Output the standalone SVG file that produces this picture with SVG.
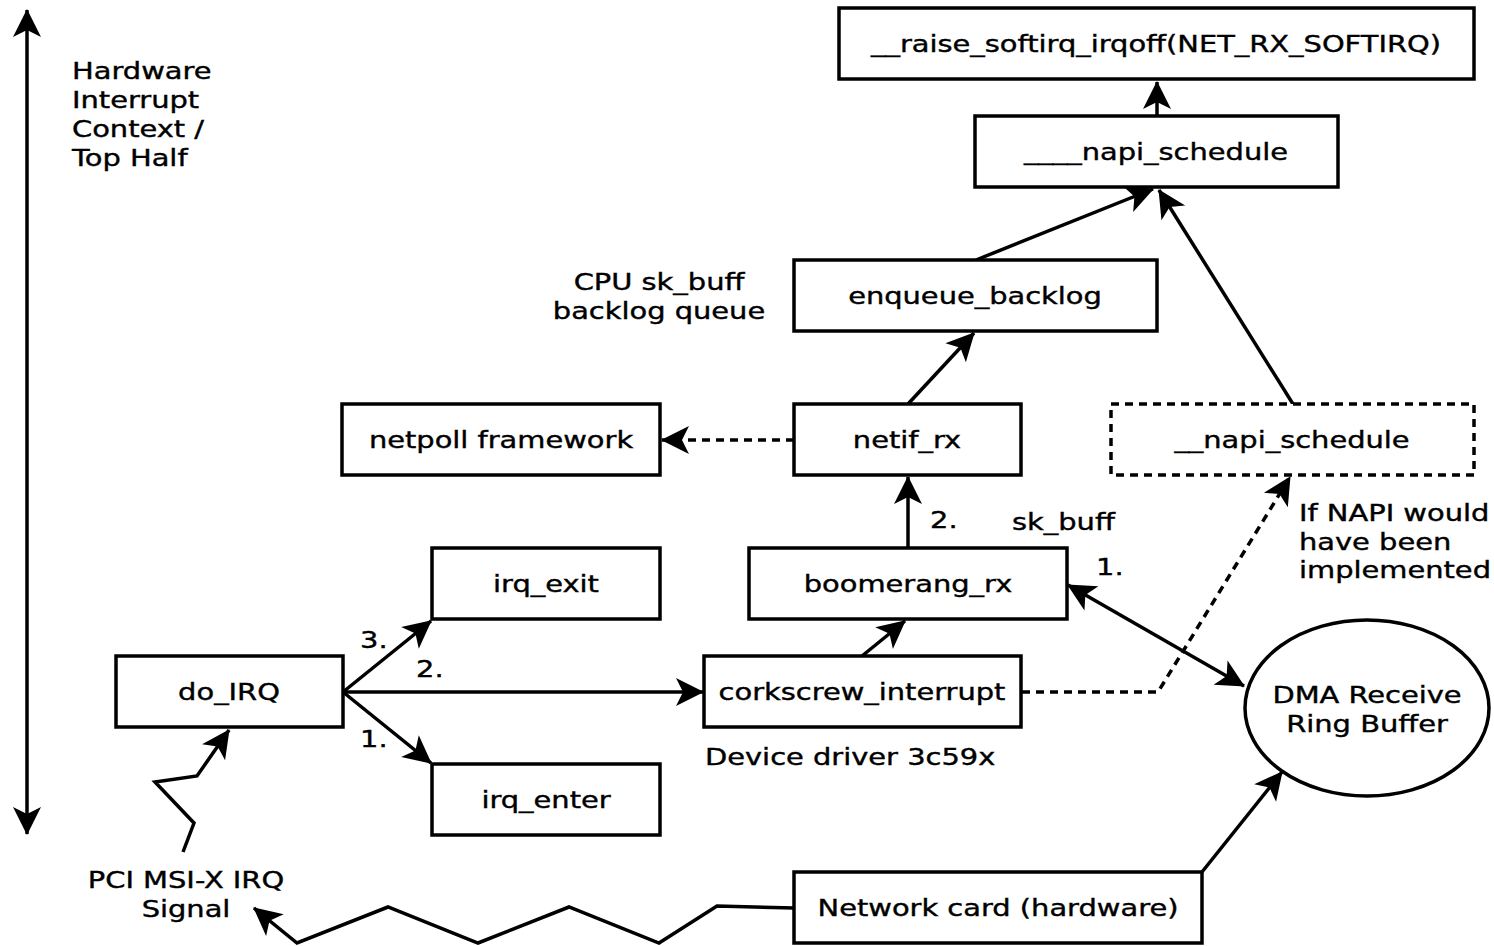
<svg xmlns="http://www.w3.org/2000/svg" width="1494" height="946" viewBox="0 0 1494 946">
<defs>
<style>
.box{fill:#fff;stroke:#000;stroke-width:3.5}
.dbox{fill:#fff;stroke:#000;stroke-width:3.5;stroke-dasharray:8,6}
.ln{fill:none;stroke:#000;stroke-width:3.5}
.dl{fill:none;stroke:#000;stroke-width:3.5;stroke-dasharray:8,6}
text{font-family:"DejaVu Sans","Liberation Sans",sans-serif;font-size:23.5px;fill:#000;stroke:#000;stroke-width:0.4}
.c{text-anchor:middle}
</style>
<marker id="ah" viewBox="-30 -16 32 32" refX="0" refY="0" markerWidth="32" markerHeight="32" markerUnits="userSpaceOnUse" orient="auto-start-reverse">
<path d="M1,0 L-27,-14 L-20,0 L-27,14 Z" fill="#000"/>
</marker>
</defs>
<rect width="1494" height="946" fill="#fff"/>

<g id="connectors">
<path class="ln" d="M27,10 L27,834" marker-start="url(#ah)" marker-end="url(#ah)"/>
<path class="ln" d="M1157,116 L1157,82" marker-end="url(#ah)"/>
<path class="ln" d="M976,260 L1153,189" marker-end="url(#ah)"/>
<path class="ln" d="M1293,404 L1159,190" marker-end="url(#ah)"/>
<path class="ln" d="M908,404 L974,333" marker-end="url(#ah)"/>
<path class="dl" d="M794,440 L662,440" marker-end="url(#ah)"/>
<path class="ln" d="M908,548 L908,477" marker-end="url(#ah)"/>
<path class="ln" d="M862,656 L905,621" marker-end="url(#ah)"/>
<path class="ln" d="M343,692 L703,692" marker-end="url(#ah)"/>
<path class="ln" d="M343,692 L431,621" marker-end="url(#ah)"/>
<path class="ln" d="M343,692 L431,763" marker-end="url(#ah)"/>
<path class="ln" d="M1068,585 L1244,686" marker-start="url(#ah)" marker-end="url(#ah)"/>
<path class="dl" d="M1022,692 L1158,692 L1290,477" marker-end="url(#ah)"/>
<path class="ln" d="M1202,872 L1282,772" marker-end="url(#ah)"/>
<path class="ln" d="M794,908 L717,906 L659,943 L569,907 L478,943 L388,907 L297,943 L254,908" marker-end="url(#ah)"/>
<path class="ln" d="M183,852 L194,823 L155,782 L197,776 L229,730" marker-end="url(#ah)"/>
</g>

<g id="raise_softirq">
<rect class="box" x="839" y="8" width="635" height="71"/>
<text class="c" transform="translate(1156,52) scale(1.23,1)">__raise_softirq_irqoff(NET_RX_SOFTIRQ)</text>
</g>
<g id="napi_schedule_inner">
<rect class="box" x="975" y="116" width="363" height="71"/>
<text class="c" transform="translate(1156,160) scale(1.23,1)">____napi_schedule</text>
</g>
<g id="enqueue_backlog">
<rect class="box" x="794" y="260" width="363" height="71"/>
<text class="c" transform="translate(975,304) scale(1.23,1)">enqueue_backlog</text>
</g>
<g id="netif_rx">
<rect class="box" x="794" y="404" width="227" height="71"/>
<text class="c" transform="translate(907,448) scale(1.23,1)">netif_rx</text>
</g>
<g id="netpoll">
<rect class="box" x="342" y="404" width="318" height="71"/>
<text class="c" transform="translate(501,448) scale(1.23,1)">netpoll framework</text>
</g>
<g id="napi_schedule_dashed">
<rect class="dbox" x="1111" y="404" width="363" height="71"/>
<text class="c" transform="translate(1292,448) scale(1.23,1)">__napi_schedule</text>
</g>
<g id="irq_exit">
<rect class="box" x="432" y="548" width="228" height="71"/>
<text class="c" transform="translate(546,592) scale(1.23,1)">irq_exit</text>
</g>
<g id="boomerang_rx">
<rect class="box" x="749" y="548" width="318" height="71"/>
<text class="c" transform="translate(908,592) scale(1.23,1)">boomerang_rx</text>
</g>
<g id="do_IRQ">
<rect class="box" x="116" y="656" width="227" height="71"/>
<text class="c" transform="translate(229,700) scale(1.23,1)">do_IRQ</text>
</g>
<g id="corkscrew_interrupt">
<rect class="box" x="704" y="656" width="317" height="71"/>
<text class="c" transform="translate(862,700) scale(1.23,1)">corkscrew_interrupt</text>
</g>
<g id="irq_enter">
<rect class="box" x="432" y="764" width="228" height="71"/>
<text class="c" transform="translate(546,808) scale(1.23,1)">irq_enter</text>
</g>
<g id="network_card">
<rect class="box" x="794" y="872" width="408" height="71"/>
<text class="c" transform="translate(998,916) scale(1.23,1)">Network card (hardware)</text>
</g>
<g id="dma_ring">
<ellipse class="box" cx="1367" cy="708" rx="122" ry="88"/>
<text class="c" transform="translate(1367,703) scale(1.23,1)">DMA Receive</text>
<text class="c" transform="translate(1367,732) scale(1.23,1)">Ring Buffer</text>
</g>

<g id="labels">
<text transform="translate(72,79) scale(1.23,1)">Hardware</text>
<text transform="translate(72,108) scale(1.23,1)">Interrupt</text>
<text transform="translate(72,137) scale(1.23,1)">Context /</text>
<text transform="translate(72,166) scale(1.23,1)">Top Half</text>
<text class="c" transform="translate(659,290) scale(1.23,1)">CPU sk_buff</text>
<text class="c" transform="translate(659,319) scale(1.23,1)">backlog queue</text>
<text transform="translate(705,765) scale(1.23,1)">Device driver 3c59x</text>
<text transform="translate(1012,530) scale(1.23,1)">sk_buff</text>
<text transform="translate(930,528) scale(1.23,1)">2.</text>
<text transform="translate(1096,575) scale(1.23,1)">1.</text>
<text transform="translate(1299,521) scale(1.23,1)">If NAPI would</text>
<text transform="translate(1299,550) scale(1.23,1)">have been</text>
<text transform="translate(1299,578) scale(1.23,1)">implemented</text>
<text class="c" transform="translate(186,888) scale(1.23,1)">PCI MSI-X IRQ</text>
<text class="c" transform="translate(186,917) scale(1.23,1)">Signal</text>
<text transform="translate(360,648) scale(1.23,1)">3.</text>
<text transform="translate(416,677) scale(1.23,1)">2.</text>
<text transform="translate(360,747) scale(1.23,1)">1.</text>
</g>
</svg>
